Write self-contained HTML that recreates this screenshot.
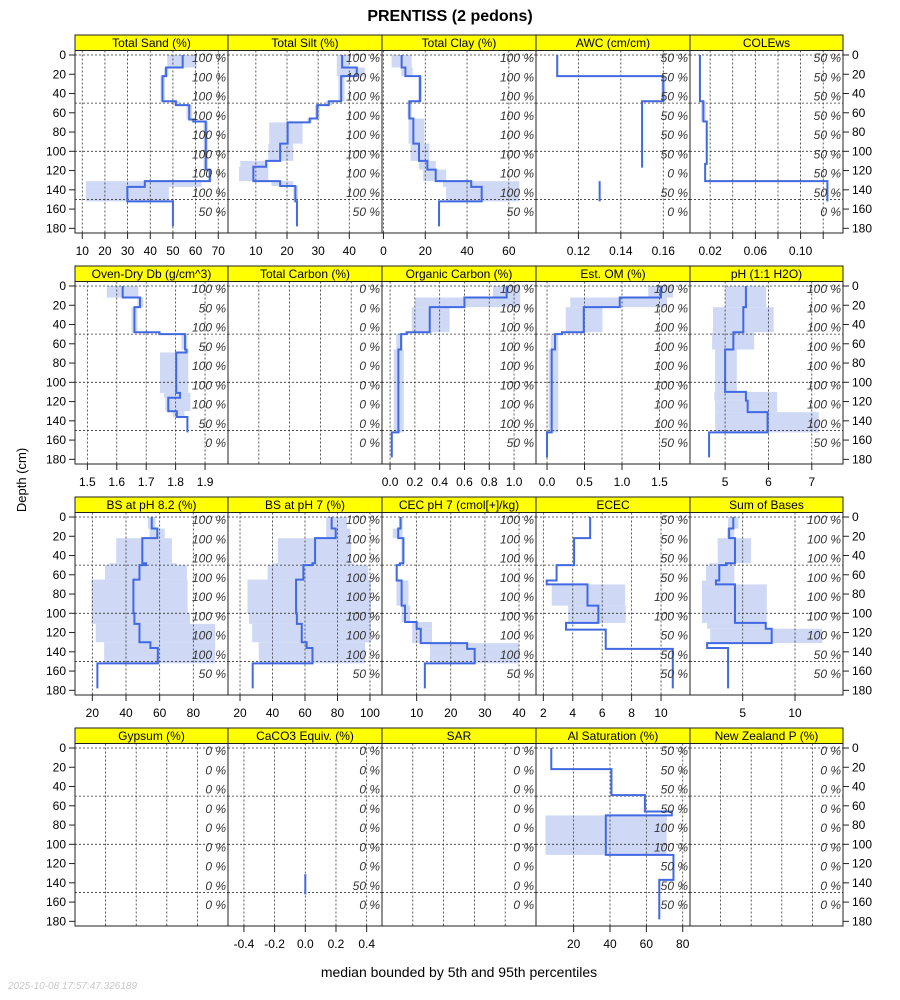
<!DOCTYPE html>
<html><head><meta charset="utf-8"><style>
body{margin:0;background:#fff;}
svg{display:block;font-family:"Liberation Sans",sans-serif;}
</style></head><body>
<svg id="chart" width="900" height="1000" viewBox="0 0 900 1000" xmlns="http://www.w3.org/2000/svg">
<rect x="0" y="0" width="900" height="1000" fill="#fff"/>
<text x="450" y="21" text-anchor="middle" font-size="16" font-weight="bold">PRENTISS (2 pedons)</text>
<text transform="translate(26,480) rotate(-90)" text-anchor="middle" font-size="13">Depth (cm)</text>
<text x="459" y="977" text-anchor="middle" font-size="14">median bounded by 5th and 95th percentiles</text>
<text x="8" y="989" font-size="10" font-style="italic" fill="#c8c8c8">2025-10-08 17:57:47.326189</text>
</svg>
<script>
// depth horizons: [top, bottom, median, p05, p95]
const depthTicks = [0,20,40,60,80,100,120,140,160,180];
const sandRows = [[0,13,54.3,47.5,60.4],[13,22,47,46,48],[22,48,45.4,44.5,46.5],[48,52,51.3,50,52.5],[52,67,57.2,56,58.5],[67,69,59,58,60],[69,119,64.5,63.5,65.5],[119,131,66.3,65.5,67],[131,137,37.6,11.6,62.6],[137,152,29.9,11.6,48.2],[152,178,50,null,null]];
const siltRows = [[0,13,37.7,36,40],[13,22,42.4,36,45],[22,48,37.4,36.5,38.5],[48,52,33.4,32.5,34.5],[52,66,29.7,29,30.5],[66,70,27.3,26.5,28],[70,92,20.2,14.3,25],[92,110,17.8,14,22],[110,116,13.3,5,14],[116,131,9.2,4.6,14],[131,136,17.8,15,22],[136,152,22.7,22,23.5],[152,178,23.2,null,null]];
const clayRows = [[0,13,8.7,3.9,13.5],[13,22,10.5,8.5,14],[22,48,17.5,16.5,18.5],[48,66,12.4,11.5,13.5],[66,92,14.3,12,19.5],[92,110,17,13,22],[110,119,21,17,25],[119,131,25,19,30],[131,137,42,28.5,65],[137,152,47,30,65],[152,178,26.6,null,null]];
const awcRows = [[0,22,0.110,null,null],[22,48,0.160,0.159,0.161],[48,117,0.150,null,null],[131,152,0.130,null,null]];
const coleRows = [[0,48,0.011,null,null],[48,69,0.014,0.012,0.016],[69,113,0.017,null,null],[113,131,0.0156,null,null],[131,152,0.1237,null,null]];
const dbRows = [[0,12,1.62,1.566,1.673],[12,22,1.679,1.67,1.69],[22,48,1.66,1.65,1.67],[48,50,1.745,1.74,1.75],[50,66,1.832,1.82,1.84],[66,69,1.837,1.83,1.845],[69,111,1.802,1.747,1.843],[111,116,1.815,1.76,1.85],[116,130,1.775,1.765,1.85],[130,136,1.804,1.79,1.83],[136,152,1.84,null,null]];
const tcRows = [];
const ocRows = [[0,12,0.94,0.83,1.05],[12,22,0.6,0.2,1.05],[22,48,0.32,0.175,0.48],[48,50,0.134,0.12,0.15],[50,66,0.089,0.05,0.1],[66,152,0.067,0.03,0.11],[152,178,0.014,null,null]];
const omRows = [[0,12,1.52,1.35,1.68],[12,22,0.97,0.31,1.6],[22,48,0.49,0.25,0.74],[48,50,0.2,0.18,0.22],[50,66,0.107,0.05,0.15],[66,152,0.062,0.02,0.15],[152,178,0.0,null,null]];
const phRows = [[0,22,5.48,5.0,5.95],[22,48,5.42,4.72,6.12],[48,66,5.19,4.7,5.67],[66,110,5.0,4.77,5.27],[110,119,5.48,4.75,6.2],[119,131,5.52,4.77,6.2],[131,152,5.98,4.77,7.16],[152,178,4.63,null,null]];
const bs82Rows = [[0,12,55.3,53,57.5],[12,22,58.6,54,63],[22,48,49.7,34.2,67.3],[48,50,51.9,30,70],[50,65,48,27.5,76.2],[65,100,44.4,19.5,76.6],[100,111,45,19.5,78],[111,130,48,22,93],[130,136,54.5,27,93],[136,152,58.9,27,93],[152,178,23,null,null]];
const bs7Rows = [[0,12,76.4,73,86],[12,22,78.9,73,88],[22,48,66.2,43.3,88.4],[48,50,64.6,40,90],[50,65,59,37,99],[65,100,54.5,24.6,100.6],[100,111,55,25.5,100.6],[111,130,58,27.5,100.6],[130,136,61,31.5,97],[136,152,64.6,31.5,97],[152,178,27.8,null,null]];
const cecRows = [[0,12,5.3,4.8,5.9],[12,22,4.6,3,5.9],[22,48,6.1,5.5,6.5],[48,50,5.1,4.5,5.5],[50,66,4.15,4,4.5],[66,92,5.6,4.1,7.6],[92,109,6.6,5.6,8.1],[109,116,10,8.7,14.5],[116,131,11.2,8.7,14.5],[131,137,24.8,13.9,40],[137,152,27,13.9,40],[152,178,12.4,null,null]];
const ececRows = [[0,22,5.18,null,null],[22,50,4.09,null,null],[50,66,2.9,null,null],[66,70,2.23,null,null],[70,92,5.0,2.57,7.56],[92,110,5.74,3.69,7.6],[110,117,3.54,null,null],[117,137,6.24,null,null],[137,178,10.8,null,null]];
const sobRows = [[0,12,4.1,3.6,4.6],[12,22,3.7,3.5,4.2],[22,48,4.26,2.6,5.8],[48,50,3.4,1.8,4.2],[50,66,2.76,1.5,4.2],[66,70,2.44,1.1,4.2],[70,110,4.26,1.1,7.3],[110,116,7.2,1.6,7.3],[116,131,7.77,1.9,12.6],[131,136,1.6,null,null],[136,178,3.6,null,null]];
const gypRows = [];
const caco3Rows = [[131,152,0,null,null]];
const sarRows = [];
const alRows = [[0,22,7.7,null,null],[22,49,40.8,null,null],[49,66,59.2,null,null],[66,70,74,null,null],[70,111,37.7,4.5,71.2],[111,137,74.9,null,null],[137,178,67.1,null,null]];
const nzpRows = [];
// percent-of-pedons labels at depths 0..160
const pct100 = [100,100,100,100,100,100,100,100,50];
const pctAwc = [50,50,50,50,50,50,0,50,0];
const pctCole = [50,50,50,50,50,50,50,50,0];
const pctDb = [100,50,100,50,100,100,100,50,0];
const pctZero = [0,0,0,0,0,0,0,0,0];
const pctEcec = [50,50,50,50,100,100,50,50,50];
const pctSob = [100,100,100,100,100,100,100,50,50];
const pctCaco3 = [0,0,0,0,0,0,0,50,0];
const pctAl = [50,50,50,50,100,100,50,50,50];
// axis ticks
const sandTicks=[10,20,30,40,50,60,70], siltTicks=[10,20,30,40], clayTicks=[0,20,40,60];
const awcTicks=[0.12,0.14,0.16], coleTicks=[0.02,0.04,0.06,0.08,0.10,0.12], coleLabels=['0.02','','0.06','','0.10',''];
const dbTicks=[1.5,1.6,1.7,1.8,1.9], ocTicks=[0,0.2,0.4,0.6,0.8,1.0], omTicks=[0,0.5,1.0,1.5], phTicks=[5,6,7];
const bs82Ticks=[20,40,60,80], bs7Ticks=[20,40,60,80,100], cecTicks=[10,20,30,40], ececTicks=[2,4,6,8,10], sobTicks=[5,10];
const caco3Ticks=[-0.4,-0.2,0,0.2,0.4], alTicks=[20,40,60,80], blankTicks=[0.2,0.4,0.6,0.8];

const COLX=[75,228,382,536,690,843];
const STRIP_TOP=[35,266,497,728];
const panels=[
 {n:'total-sand',t:'Total Sand (%)',r:0,c:0,d:[6.8,74.3],rows:sandRows,tk:sandTicks,pct:pct100,fmt:v=>v},
 {n:'total-silt',t:'Total Silt (%)',r:0,c:1,d:[1.06,50.5],rows:siltRows,tk:siltTicks,pct:pct100,fmt:v=>v},
 {n:'total-clay',t:'Total Clay (%)',r:0,c:2,d:[-0.7,73],rows:clayRows,tk:clayTicks,pct:pct100,fmt:v=>v},
 {n:'awc',t:'AWC (cm/cm)',r:0,c:3,d:[0.1,0.1726],rows:awcRows,tk:awcTicks,pct:pctAwc,fmt:v=>v.toFixed(2)},
 {n:'colews',t:'COLEws',r:0,c:4,d:[0.0022,0.1375],rows:coleRows,tk:coleTicks,lab:coleLabels,pct:pctCole},
 {n:'oven-dry-db',t:'Oven-Dry Db (g/cm^3)',r:1,c:0,d:[1.458,1.978],rows:dbRows,tk:dbTicks,pct:pctDb,fmt:v=>v.toFixed(1)},
 {n:'total-carbon',t:'Total Carbon (%)',r:1,c:1,d:[0,1],rows:tcRows,tk:blankTicks,pct:pctZero,nolab:true},
 {n:'organic-carbon',t:'Organic Carbon (%)',r:1,c:2,d:[-0.065,1.177],rows:ocRows,tk:ocTicks,pct:pct100,fmt:v=>v.toFixed(1)},
 {n:'est-om',t:'Est. OM (%)',r:1,c:3,d:[-0.147,1.907],rows:omRows,tk:omTicks,pct:pct100,fmt:v=>v.toFixed(1)},
 {n:'ph',t:'pH (1:1 H2O)',r:1,c:4,d:[4.19,7.72],rows:phRows,tk:phTicks,pct:pct100,fmt:v=>v},
 {n:'bs-ph82',t:'BS at pH 8.2 (%)',r:2,c:0,d:[9.7,100.6],rows:bs82Rows,tk:bs82Ticks,pct:pct100,fmt:v=>v},
 {n:'bs-ph7',t:'BS at pH 7 (%)',r:2,c:1,d:[12.6,107.4],rows:bs7Rows,tk:bs7Ticks,pct:pct100,fmt:v=>v},
 {n:'cec-ph7',t:'CEC pH 7 (cmol[+]/kg)',r:2,c:2,d:[-0.15,44.97],rows:cecRows,tk:cecTicks,pct:pct100,fmt:v=>v},
 {n:'ecec',t:'ECEC',r:2,c:3,d:[1.5,11.97],rows:ececRows,tk:ececTicks,pct:pctEcec,fmt:v=>v},
 {n:'sum-of-bases',t:'Sum of Bases',r:2,c:4,d:[-0.04,14.59],rows:sobRows,tk:sobTicks,pct:pctSob,fmt:v=>v},
 {n:'gypsum',t:'Gypsum (%)',r:3,c:0,d:[0,1],rows:gypRows,tk:blankTicks,pct:pctZero,nolab:true},
 {n:'caco3',t:'CaCO3 Equiv. (%)',r:3,c:1,d:[-0.504,0.5],rows:caco3Rows,tk:caco3Ticks,pct:pctCaco3,fmt:v=>v.toFixed(1)},
 {n:'sar',t:'SAR',r:3,c:2,d:[0,1],rows:sarRows,tk:blankTicks,pct:pctZero,nolab:true},
 {n:'al-saturation',t:'Al Saturation (%)',r:3,c:3,d:[-0.7,84],rows:alRows,tk:alTicks,pct:pctAl,fmt:v=>v},
 {n:'new-zealand-p',t:'New Zealand P (%)',r:3,c:4,d:[0,1],rows:nzpRows,tk:blankTicks,pct:pctZero,nolab:true}
];
const svg=document.getElementById('chart');
const NS='http://www.w3.org/2000/svg';
function mk(tag,attrs,parent,txt){const e=document.createElementNS(NS,tag);for(const k in attrs)e.setAttribute(k,attrs[k]);if(txt!==undefined)e.textContent=txt;(parent||svg).appendChild(e);return e;}
let clipId=0;
panels.forEach(p=>{
  const x0=COLX[p.c],x1=COLX[p.c+1],st=STRIP_TOP[p.r],pt=st+15.5,pb=st+198,d0=st+20,k=0.963;
  const X=v=>x0+(v-p.d[0])/(p.d[1]-p.d[0])*(x1-x0);
  const Y=d=>d0+d*k;
  const g=mk('g',{});
  
  
  const cid='clip'+(clipId++);
  const cp=mk('clipPath',{id:cid},g);mk('rect',{x:x0,y:pt,width:x1-x0,height:pb-pt},cp);
  const inner=mk('g',{'clip-path':'url(#'+cid+')'},g);
  // bands
  p.rows.forEach(h=>{if(h[3]==null)return;
    const b=mk('rect',{x:X(h[3]),y:Y(h[0]),width:Math.max(0,X(h[4])-X(h[3])),height:Y(h[1])-Y(h[0]),fill:'#cfd9f6'},inner);
    
    
  });
  // grid
  p.tk.forEach(v=>{const gl=mk('line',{x1:X(v),x2:X(v),y1:pt,y2:pb,stroke:'#333','stroke-width':0.8,'stroke-dasharray':'2,2'},inner);
    
    });
  [0,50,100,150].forEach(d=>{const gl=mk('line',{x1:x0,x2:x1,y1:Y(d),y2:Y(d),stroke:'#333','stroke-width':0.8,'stroke-dasharray':'2,2'},inner);
    
    });
  // median line
  let dstr='',prev=null;
  p.rows.forEach(h=>{const xv=X(h[2]);
    if(prev&&prev[1]===h[0]){dstr+=' L'+xv+','+Y(h[0]);}else{dstr+=' M'+xv+','+Y(h[0]);}
    dstr+=' L'+xv+','+Y(h[1]);prev=h;});
  if(dstr){const ln=mk('path',{d:dstr,fill:'none',stroke:'#4169e1','stroke-width':2},inner);
    
    }
  // pct labels
  p.pct.forEach((v,i)=>{const t=mk('text',{x:x1-2,y:Y(i*20)+7,'text-anchor':'end','font-size':12,'font-style':'italic',fill:'#333'},g,v+' %');
    
    });
  // frame
  const fr=mk('rect',{x:x0,y:pt,width:x1-x0,height:pb-pt,fill:'none',stroke:'#222','stroke-width':1},g);
  
  
  const sr=mk('rect',{x:x0,y:st,width:x1-x0,height:15.5,fill:'#ffff00',stroke:'#222','stroke-width':1},g);
  
  
  const stt=mk('text',{x:(x0+x1)/2,y:st+12,'text-anchor':'middle','font-size':12},g,p.t);
  
  
  // bottom axis
  if(!p.nolab){p.tk.forEach((v,i)=>{
    const tl=mk('line',{x1:X(v),x2:X(v),y1:pb,y2:pb+6,stroke:'#222'},g);
    
    
    const lab=p.lab?p.lab[i]:p.fmt(v);
    if(lab!==''){const tx=mk('text',{x:X(v),y:pb+22,'text-anchor':'middle','font-size':12},g,String(lab));
      
      }
  });}
  // left/right depth axes
  if(p.c===0||p.c===4){depthTicks.forEach(d=>{
    const left=p.c===0;
    const tl=mk('line',{x1:left?x0-6:x1,x2:left?x0:x1+6,y1:Y(d),y2:Y(d),stroke:'#222'},g);
    
    
    const tx=mk('text',{x:left?x0-9:x1+9,y:Y(d)+4,'text-anchor':left?'end':'start','font-size':12},g,String(d));
    
    
  });}
});
</script>
</body></html>
